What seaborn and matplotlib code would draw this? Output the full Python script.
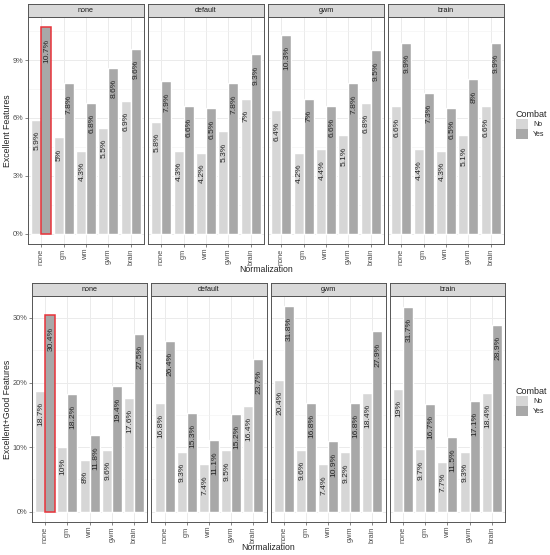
import numpy as np
import pandas as pd
import matplotlib
matplotlib.use("Agg")
import matplotlib.pyplot as plt
from matplotlib.patches import Patch
from matplotlib.ticker import PercentFormatter, MultipleLocator
import seaborn as sns

FACETS = ["none", "default", "gwm", "brain"]
NORMS = ["none", "gm", "wm", "gwm", "brain"]
COMBAT = ["No", "Yes"]

# Excellent features (%), one list per facet, No then Yes per normalization
exc_no = {
    "none": [5.9, 5.0, 4.3, 5.5, 6.9],
    "default": [5.8, 4.3, 4.2, 5.3, 7.0],
    "gwm": [6.4, 4.2, 4.4, 5.1, 6.8],
    "brain": [6.6, 4.4, 4.3, 5.1, 6.6],
}
exc_yes = {
    "none": [10.7, 7.8, 6.8, 8.6, 9.6],
    "default": [7.9, 6.6, 6.5, 7.8, 9.3],
    "gwm": [10.3, 7.0, 6.6, 7.8, 9.5],
    "brain": [9.9, 7.3, 6.5, 8.0, 9.9],
}

# Excellent+Good features (%)
eg_no = {
    "none": [18.7, 10.0, 8.0, 9.6, 17.6],
    "default": [16.8, 9.3, 7.4, 9.5, 16.4],
    "gwm": [20.4, 9.6, 7.4, 9.2, 18.4],
    "brain": [19.0, 9.7, 7.7, 9.3, 18.4],
}
eg_yes = {
    "none": [30.4, 18.2, 11.8, 19.4, 27.5],
    "default": [26.4, 15.3, 11.1, 15.2, 23.7],
    "gwm": [31.8, 16.8, 10.9, 16.8, 27.9],
    "brain": [31.7, 16.7, 11.5, 17.1, 28.9],
}

COLORS = {"No": "#d6d6d6", "Yes": "#a8a8a8"}
W, H = 550, 555


def to_long(no, yes):
    rows = []
    for f in FACETS:
        for n, v in zip(NORMS, no[f]):
            rows.append((f, n, "No", v))
        for n, v in zip(NORMS, yes[f]):
            rows.append((f, n, "Yes", v))
    return pd.DataFrame(rows, columns=["facet", "norm", "combat", "value"])


def px_rect(l, t, r, b):
    return [l / W, 1 - b / H, (r - l) / W, (b - t) / H]


sns.set_theme(style="white")
plt.rcParams["font.family"] = ["Liberation Sans", "DejaVu Sans"]

fig = plt.figure(figsize=(W / 100, H / 100), dpi=100)


def draw_row(df, left, right, top, bottom, ystep, ylabel, legend_top):
    gap = 4
    pw = (right - left - 3 * gap) / 4
    ymax = df["value"].max()
    pad = ymax * 0.05
    for i, f in enumerate(FACETS):
        l = left + i * (pw + gap)
        ax = fig.add_axes(px_rect(l, top + 13, l + pw, bottom))
        sub = df[df["facet"] == f]
        sns.barplot(data=sub, x="norm", y="value", hue="combat", order=NORMS,
                    hue_order=COMBAT, palette=COLORS, width=0.9, ax=ax,
                    legend=False, saturation=1, errorbar=None, zorder=2)
        ax.set_xlim(-0.6, 4.6)
        ax.set_ylim(-pad, ymax + pad)
        ax.yaxis.set_major_locator(MultipleLocator(ystep))
        ax.yaxis.set_minor_locator(MultipleLocator(ystep / 2))
        ax.yaxis.set_major_formatter(PercentFormatter(xmax=100, decimals=0))
        ax.grid(True, which="major", color="#ebebeb", lw=0.7, zorder=0)
        ax.grid(True, which="minor", axis="y", color="#f2f2f2", lw=0.4, zorder=0)
        ax.set_axisbelow(True)
        for s in ax.spines.values():
            s.set_color("#555555")
            s.set_linewidth(0.7)
        ax.tick_params(axis="x", labelrotation=90, labelsize=5.3,
                       labelcolor="#4d4d4d", length=2, width=0.5,
                       color="#555555", pad=1.5, bottom=True)
        ax.tick_params(axis="y", labelsize=5.3, labelcolor="#4d4d4d",
                       length=2, width=0.5, color="#555555", pad=1.5, left=True)
        ax.tick_params(axis="y", which="minor", left=False)
        ax.set_xlabel("")
        ax.set_ylabel("")
        if i > 0:
            ax.tick_params(axis="y", left=False, labelleft=False)

        # value labels inside bars
        for lvl, cont in zip(COMBAT, ax.containers):
            for n, bar in zip(NORMS, cont):
                v = bar.get_height()
                ax.annotate(f"{v:g}%", (bar.get_x() + bar.get_width() / 2, v),
                            xytext=(0.6, -8), textcoords="offset points",
                            rotation=90, ha="center", va="top",
                            fontsize=6.1, color="#262626")
                if f == "none" and n == "none" and lvl == "Yes":
                    bar.set_edgecolor("#e8333a")
                    bar.set_linewidth(1.1)
                    bar.set_zorder(3)

        # facet strip
        sax = fig.add_axes(px_rect(l, top, l + pw, top + 13))
        sax.set_facecolor("#d9d9d9")
        sax.set_xticks([])
        sax.set_yticks([])
        for s in sax.spines.values():
            s.set_color("#555555")
            s.set_linewidth(0.7)
        sax.text(0.5, 0.5, f, ha="center", va="center", fontsize=5.2,
                 color="#1a1a1a", transform=sax.transAxes)

    fig.text(7.5 / W, 1 - (top + 13 + bottom) / 2 / H, ylabel, rotation=90,
             ha="center", va="center", fontsize=6.3)
    fig.text((left + right) / 2 / W, 1 - (bottom + 26) / H, "Normalization",
             ha="center", va="center", fontsize=6.3)

    handles = [Patch(facecolor=COLORS[c], edgecolor="none") for c in COMBAT]
    leg = fig.legend(handles, COMBAT, title="Combat", loc="upper left",
                     bbox_to_anchor=(516 / W, 1 - legend_top / H),
                     frameon=False, fontsize=5, title_fontsize=6.5,
                     handlelength=1.75, handleheight=1.75, handletextpad=0.7,
                     labelspacing=0.05, borderaxespad=0, borderpad=0,
                     alignment="left")
    return leg


draw_row(to_long(exc_no, exc_yes), 28, 504, 4, 244, 3,
         "Excellent Features", 110)
draw_row(to_long(eg_no, eg_yes), 32, 505, 283, 522, 10,
         "Excellent+Good Features", 387)

fig.savefig("out.png", dpi=100, facecolor="white")
